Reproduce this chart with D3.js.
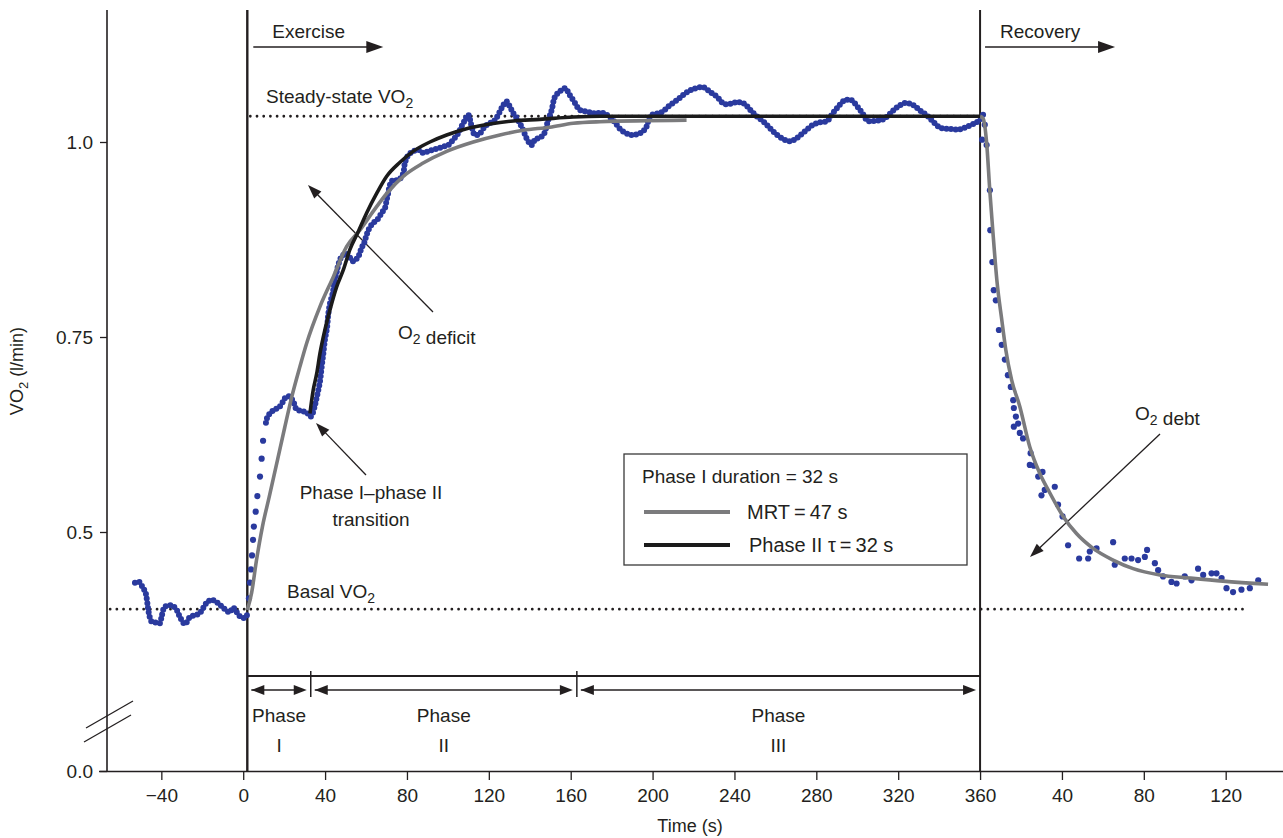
<!DOCTYPE html>
<html>
<head>
<meta charset="utf-8">
<script src="https://cdn.jsdelivr.net/npm/d3@7"></script>
<style>
  body { margin: 0; background: #fff; }
  svg { font-family: "Liberation Sans", Arial, Helvetica, sans-serif; }
</style>
</head>
<body>
<svg id="chart" width="1283" height="838"></svg>
<script>
// ---- data (time in s, VO2 in l/min) ----
const xTicks = [-40, 0, 40, 80, 120, 160, 200, 240, 280, 320, 360, 400, 440, 480];
const yTicks = [0, 0.5, 0.75, 1.0];
const yTickLabels = ['0.0', '0.5', '0.75', '1.0'];

const steadyState = 1.033;
const basal = 0.401;
const exerciseStart = 2;
const recoveryStart = 360;
const phaseBounds = [2, 33, 163, 360];
const phaseNames = ['I', 'II', 'III'];

const preExercise = [[-52.9,.435],[-50.8,.436],[-49.3,.430],[-47.7,.422],[-46.9,.410],[-46.1,.396],
  [-44.7,.385],[-42.6,.384],[-40.7,.383],[-39.9,.391],[-38.3,.404],[-35.0,.406],[-32.5,.400],
  [-30.9,.391],[-28.5,.382],[-26.0,.391],[-22.8,.394],[-21.2,.396],[-17.9,.409],[-15.4,.413],
  [-12.4,.409],[-9.8,.403],[-6.5,.397],[-5.0,.403],[-1.6,.392],[0.8,.390],[2.3,.396]];

const onsetDots = [[2.8,.415],[3.3,.435],[3.8,.452],[4.3,.470],[4.8,.490],[5.2,.507],[6.1,.526],
  [6.9,.546],[8.2,.571],[9.0,.594],[9.7,.617]];

const exerciseDots = [[11.1,.640],[11.9,.648],[13.5,.653],[15.2,.657],[16.9,.659],[18.6,.663],
  [20.2,.671],[22.2,.674],[24.3,.668],[26.1,.657],[28.6,.655],[31.1,.653],[32.8,.648],[33.6,.650],
  [35.0,.662],[36.2,.676],[37.5,.693],[38.3,.711],[39.1,.728],[39.9,.746],[41.0,.763],[41.5,.778],
  [42.4,.793],[43.7,.806],[44.5,.819],[45.6,.832],[46.4,.842],[48.1,.853],[50.5,.857],[53.7,.847],
  [56.2,.853],[57.8,.864],[59.0,.870],[60.3,.881],[61.9,.891],[63.5,.896],[66.0,.902],[67.6,.909],
  [69.2,.915],[70.1,.926],[70.8,.934],[71.7,.945],[73.0,.951],[74.9,.951],[76.6,.953],[78.2,.960],
  [79.0,.973],[80.6,.983],[83.0,.988],[85.5,.990],[87.9,.986],[90.4,.988],[92.8,.990],[95.3,.992],
  [97.7,.994],[100.1,.996],[102.6,1.003],[105.0,1.011],[106.7,1.020],[108.3,1.028],[109.9,1.035],
  [111.6,1.020],[113.2,1.009],[115.6,1.011],[118.1,1.020],[120.5,1.024],[122.9,1.028],[125.4,1.039],
  [127.0,1.047],[128.7,1.052],[130.3,1.045],[131.9,1.037],[134.3,1.028],[136.8,1.015],[138.4,1.005],
  [140.9,.996],[142.5,1.003],[144.1,1.005],[146.6,1.009],[149.0,1.028],[150.7,1.041],[152.3,1.058],
  [154.7,1.065],[157.2,1.069],[159.6,1.060],[162.1,1.050],[164.5,1.041],[167.8,1.039],[171.0,1.037],
  [173.3,1.037],[176.1,1.037],[181.0,1.027],[184.4,1.016],[189.3,1.009],[194.3,1.012],[196.7,1.018],
  [199.2,1.034],[204.2,1.038],[208.4,1.047],[212.5,1.055],[215.8,1.062],[219.9,1.068],[224.9,1.070],
  [228.2,1.064],[231.5,1.058],[234.8,1.049],[238.1,1.049],[241.4,1.051],[244.8,1.049],[248.1,1.040],
  [251.3,1.032],[254.7,1.025],[257.2,1.018],[259.6,1.012],[263.0,1.005],[267.1,1.001],[270.4,1.005],
  [273.7,1.012],[277.8,1.021],[281.1,1.025],[285.3,1.027],[287.8,1.036],[290.3,1.044],[293.6,1.053],
  [296.9,1.054],[300.2,1.045],[302.7,1.036],[305.2,1.027],[308.5,1.027],[312.6,1.029],[315.9,1.036],
  [319.2,1.044],[323.4,1.050],[327.5,1.047],[330.8,1.040],[334.1,1.034],[337.4,1.025],[340.7,1.018],
  [344.8,1.017],[349.8,1.016],[354.0,1.020],[358.1,1.025],[360.5,1.030],[361.5,1.035]];

const recoveryDots = [[361.0,1.003],[362.3,1.022],[363.2,.996],[364.8,.938],[365.0,.887],[366.0,.846],
  [366.7,.810],[367.7,.797],[369.2,.759],[370.6,.740],[372.1,.721],[373.6,.701],[375.0,.686],
  [376.2,.669],[376.5,.659],[376.5,.635],[377.5,.648],[378.6,.639],[379.4,.627],[381.0,.620],
  [384.3,.586],[384.7,.601],[386.3,.585],[388.4,.571],[390.0,.547],[390.5,.577],[391.6,.554],
  [396.5,.558],[398.1,.535],[400.3,.520],[403.0,.483],[408.4,.466],[412.8,.466],[413.6,.475],
  [416.9,.479],[425.0,.487],[425.8,.458],[430.7,.466],[434.0,.466],[437.2,.464],[440.5,.468],
  [441.6,.477],[445.4,.460],[447.0,.451],[449.4,.443],[453.5,.436],[456.0,.434],[460.0,.443],
  [463.3,.438],[466.5,.453],[469.0,.445],[473.1,.447],[475.5,.447],[478.0,.441],[480.4,.428],
  [483.6,.423],[487.7,.426],[491.8,.428],[495.9,.438]];

// MRT model (grey) and phase II fit (black)
const mrtFit = [[2.0,.400],[4.1,.422],[6.5,.464],[9.4,.507],[12.7,.545],[16.9,.594],[20.2,.633],
  [23.6,.672],[27.7,.712],[31.0,.742],[37.5,.789],[44.0,.827],[50.5,.866],[57.0,.887],[63.5,.911],
  [70.1,.934],[78.2,.956],[87.9,.973],[99.4,.988],[112.4,1.000],[125.4,1.009],[136.8,1.015],
  [149.8,1.019],[161.2,1.024],[174.3,1.026],[216.6,1.028]];
const mrtRecovery = [[360.0,1.033],[361.5,1.030],[363.2,.999],[364.8,.936],[366.2,.887],[368.2,.823],
  [370.6,.772],[372.6,.733],[375.4,.695],[379.4,.661],[384.3,.609],[389.2,.575],[394.1,.550],
  [400.6,.520],[407.1,.498],[415.2,.479],[425.0,.464],[434.8,.453],[447.8,.445],[462.5,.441],
  [478.7,.437],[500.7,.433]];
const phase2Fit = [[32.6,.652],[34.2,.682],[35.9,.703],[37.5,.729],[39.9,.759],[42.4,.785],
  [45.6,.814],[48.9,.836],[52.1,.862],[56.2,.885],[60.3,.909],[65.2,.934],[70.1,.956],[76.6,.974],
  [83.0,.988],[91.2,1.000],[99.4,1.009],[109.1,1.017],[120.5,1.023],[131.9,1.027],[144.9,1.029],
  [161.2,1.032],[174.3,1.033],[360.0,1.033]];

const legendTitle = 'Phase I duration = 32 s';
const legendItems = [
  { label: 'MRT\u2009=\u200947 s', color: '#7b7b7d' },
  { label: 'Phase II \u03c4\u2009=\u200932 s', color: '#1b1b1b' }
];

// ---- setup ----
const ink = '#231f20';
const blue = '#2a3a9e';
const fs = 19;

const svg = d3.select('#chart');
const x = d3.scaleLinear().domain([-70.7, 508]).range([98.5, 1283]);
// gebrochene Achse: 0 ganz unten, ab 0.3 linear nach oben
const y = d3.scaleLinear().domain([0, 0.3, 1.2]).range([771, 688, -14]);

const axisX = 107;
const topY = 10;
const baseY = 771;

// x axis
const xAxis = svg.append('g')
    .attr('transform', `translate(0,${baseY})`)
    .call(d3.axisBottom(x).tickValues(xTicks)
        .tickFormat(d => d > 360 ? d - 360 : (d < 0 ? '\u2212' + Math.abs(d) : d))
        .tickSize(9).tickSizeOuter(0).tickPadding(9));
xAxis.select('.domain').attr('stroke', ink).attr('stroke-width', 1.6);
xAxis.selectAll('.tick line').attr('stroke', ink).attr('stroke-width', 1.3);
xAxis.selectAll('.tick text').attr('fill', ink).style('font-size', fs + 'px').style('font-family', 'inherit');

// y axis
const yAxis = svg.append('g')
    .attr('transform', `translate(${axisX},0)`)
    .call(d3.axisLeft(y).tickValues(yTicks)
        .tickFormat((d, i) => yTickLabels[i])
        .tickSize(7).tickPadding(7));
yAxis.select('.domain').remove();
yAxis.selectAll('.tick line').attr('stroke', ink).attr('stroke-width', 1.3);
yAxis.selectAll('.tick text').attr('fill', ink).style('font-size', fs + 'px').style('font-family', 'inherit');
svg.append('line')
    .attr('x1', axisX).attr('x2', axisX).attr('y1', topY).attr('y2', baseY)
    .attr('stroke', ink).attr('stroke-width', 1.6);

// Achsenbruch
[[0, 0], [-2, 14]].forEach(([dx, dy]) => {
    svg.append('line')
        .attr('x1', 86 + dx).attr('y1', 728 + dy)
        .attr('x2', 133 + dx).attr('y2', 701 + dy)
        .attr('stroke', ink).attr('stroke-width', 1.3);
});

// axis titles
svg.append('text')
    .attr('x', 690).attr('y', 832)
    .attr('text-anchor', 'middle')
    .attr('fill', ink).style('font-size', '18px')
    .text('Time (s)');

const yTitle = svg.append('text')
    .attr('transform', 'translate(23,371) rotate(-90)')
    .attr('text-anchor', 'middle')
    .attr('fill', ink).style('font-size', '18px');
yTitle.append('tspan').text('VO');
yTitle.append('tspan').attr('dy', 5).style('font-size', '13px').text('2');
yTitle.append('tspan').attr('dy', -5).text(' (l/min)');

// exercise / recovery onset lines
svg.append('line')
    .attr('x1', x(exerciseStart)).attr('x2', x(exerciseStart))
    .attr('y1', topY).attr('y2', baseY)
    .attr('stroke', ink).attr('stroke-width', 2.4);
svg.append('line')
    .attr('x1', x(recoveryStart)).attr('x2', x(recoveryStart))
    .attr('y1', topY).attr('y2', baseY)
    .attr('stroke', ink).attr('stroke-width', 2);

// gepunktete Referenzlinien
svg.append('line')
    .attr('x1', x(exerciseStart) + 3).attr('x2', x(recoveryStart))
    .attr('y1', y(steadyState)).attr('y2', y(steadyState))
    .attr('stroke', ink).attr('stroke-width', 2.8)
    .attr('stroke-linecap', 'round').attr('stroke-dasharray', '0 6.7');
svg.append('line')
    .attr('x1', x(-65)).attr('x2', x(491))
    .attr('y1', y(basal)).attr('y2', y(basal))
    .attr('stroke', ink).attr('stroke-width', 2.8)
    .attr('stroke-linecap', 'round').attr('stroke-dasharray', '0 6.7');

// Pfeil mit gefüllter Spitze
function arrow(x1, y1, x2, y2, opts = {}) {
    const len = opts.len || 14, half = opts.half || 5, w = opts.width || 1.3;
    const ang = Math.atan2(y2 - y1, x2 - x1);
    const cx = Math.cos(ang), sy = Math.sin(ang);
    svg.append('line')
        .attr('x1', x1).attr('y1', y1)
        .attr('x2', x2 - cx * (len - 2)).attr('y2', y2 - sy * (len - 2))
        .attr('stroke', ink).attr('stroke-width', w);
    const bx = x2 - cx * len, by = y2 - sy * len;
    svg.append('path')
        .attr('d', `M${x2},${y2}L${bx - sy * half},${by + cx * half}L${bx + sy * half},${by - cx * half}Z`)
        .attr('fill', ink);
    if (opts.both) {
        const b2x = x1 + cx * len, b2y = y1 + sy * len;
        svg.append('path')
            .attr('d', `M${x1},${y1}L${b2x - sy * half},${b2y + cx * half}L${b2x + sy * half},${b2y - cx * half}Z`)
            .attr('fill', ink);
    }
}

// Exercise / Recovery headers
svg.append('text').attr('x', x(exerciseStart) + 25).attr('y', 38)
    .attr('fill', ink).style('font-size', fs + 'px').text('Exercise');
arrow(x(exerciseStart) + 6, 47, x(exerciseStart) + 136, 47, { width: 1.6, len: 17, half: 6 });
svg.append('text').attr('x', x(recoveryStart) + 20).attr('y', 38)
    .attr('fill', ink).style('font-size', fs + 'px').text('Recovery');
arrow(x(recoveryStart) + 5, 47, x(recoveryStart) + 135, 47, { width: 1.6, len: 17, half: 6 });

// Text mit tiefgestellter 2
function subText(px, py, parts, anchor = 'start') {
    const t = svg.append('text').attr('x', px).attr('y', py)
        .attr('text-anchor', anchor).attr('fill', ink).style('font-size', fs + 'px');
    parts.forEach(p => {
        if (p.sub) {
            t.append('tspan').attr('dy', 5).style('font-size', '14px').text(p.sub);
            t.append('tspan').attr('dy', -5).text('');
        } else {
            t.append('tspan').text(p.t);
        }
    });
    return t;
}

subText(266, 103, [{ t: 'Steady-state VO' }, { sub: '2' }]);
subText(287, 598, [{ t: 'Basal VO' }, { sub: '2' }]);
subText(398, 339, [{ t: 'O' }, { sub: '2' }, { t: ' deficit' }]);
subText(1135, 420, [{ t: 'O' }, { sub: '2' }, { t: ' debt' }]);
svg.append('text').attr('x', 371).attr('y', 499).attr('text-anchor', 'middle')
    .attr('fill', ink).style('font-size', fs + 'px').text('Phase I\u2013phase II');
svg.append('text').attr('x', 371).attr('y', 526).attr('text-anchor', 'middle')
    .attr('fill', ink).style('font-size', fs + 'px').text('transition');

// annotation arrows
arrow(433, 312, 308, 185);
arrow(366, 475, 316, 423);
arrow(1160, 434, 1030, 557);

// phase brackets
const bracketY = 676;
svg.append('line')
    .attr('x1', x(phaseBounds[0])).attr('x2', x(phaseBounds[3]))
    .attr('y1', bracketY).attr('y2', bracketY)
    .attr('stroke', ink).attr('stroke-width', 1.8);
phaseBounds.slice(1, 3).forEach(b => {
    svg.append('line')
        .attr('x1', x(b)).attr('x2', x(b))
        .attr('y1', bracketY - 5).attr('y2', bracketY + 21)
        .attr('stroke', ink).attr('stroke-width', 1.5);
});
phaseNames.forEach((name, i) => {
    const a = x(phaseBounds[i]) + 4, b = x(phaseBounds[i + 1]) - 4;
    arrow(a, 690, b, 690, { both: true, len: 13, half: 5, width: 1.4 });
    const mid = (x(phaseBounds[i]) + x(phaseBounds[i + 1])) / 2;
    svg.append('text').attr('x', mid).attr('y', 722).attr('text-anchor', 'middle')
        .attr('fill', ink).style('font-size', fs + 'px').text('Phase');
    svg.append('text').attr('x', mid).attr('y', 752).attr('text-anchor', 'middle')
        .attr('fill', ink).style('font-size', fs + 'px').text(name);
});

// ---- gemessene VO2 (blaue Punkte) ----
const dotLine = d3.line().x(d => x(d[0])).y(d => y(d[1])).curve(d3.curveCatmullRom);
[preExercise, exerciseDots].forEach(seg => {
    svg.append('path')
        .attr('d', dotLine(seg))
        .attr('fill', 'none')
        .attr('stroke', blue)
        .attr('stroke-width', 6)
        .attr('stroke-linecap', 'round')
        .attr('stroke-dasharray', '0 4.6');
});
svg.append('g').selectAll('circle')
    .data(onsetDots.concat(recoveryDots))
    .join('circle')
    .attr('cx', d => x(d[0]))
    .attr('cy', d => y(d[1]))
    .attr('r', 3.1)
    .attr('fill', blue);

// ---- Modellkurven ----
const fitLine = d3.line().x(d => x(d[0])).y(d => y(d[1])).curve(d3.curveMonotoneX);
[mrtFit, mrtRecovery].forEach(seg => {
    svg.append('path').attr('d', fitLine(seg))
        .attr('fill', 'none').attr('stroke', legendItems[0].color).attr('stroke-width', 3.6);
});
svg.append('path').attr('d', fitLine(phase2Fit))
    .attr('fill', 'none').attr('stroke', legendItems[1].color).attr('stroke-width', 3.6);

// ---- legend ----
const lg = svg.append('g').attr('transform', 'translate(624,454)');
lg.append('rect').attr('width', 343).attr('height', 111)
    .attr('fill', '#fff').attr('stroke', '#3a3a3a').attr('stroke-width', 1.3);
lg.append('text').attr('x', 18).attr('y', 29)
    .attr('fill', ink).style('font-size', fs + 'px').text(legendTitle);
legendItems.forEach((it, i) => {
    const ly = 58 + i * 33;
    lg.append('line').attr('x1', 20).attr('x2', 106).attr('y1', ly).attr('y2', ly)
        .attr('stroke', it.color).attr('stroke-width', 4);
    lg.append('text').attr('x', 123 + i * 2).attr('y', ly + 7)
        .attr('fill', ink).style('font-size', '20px').text(it.label);
});
</script>
</body>
</html>
